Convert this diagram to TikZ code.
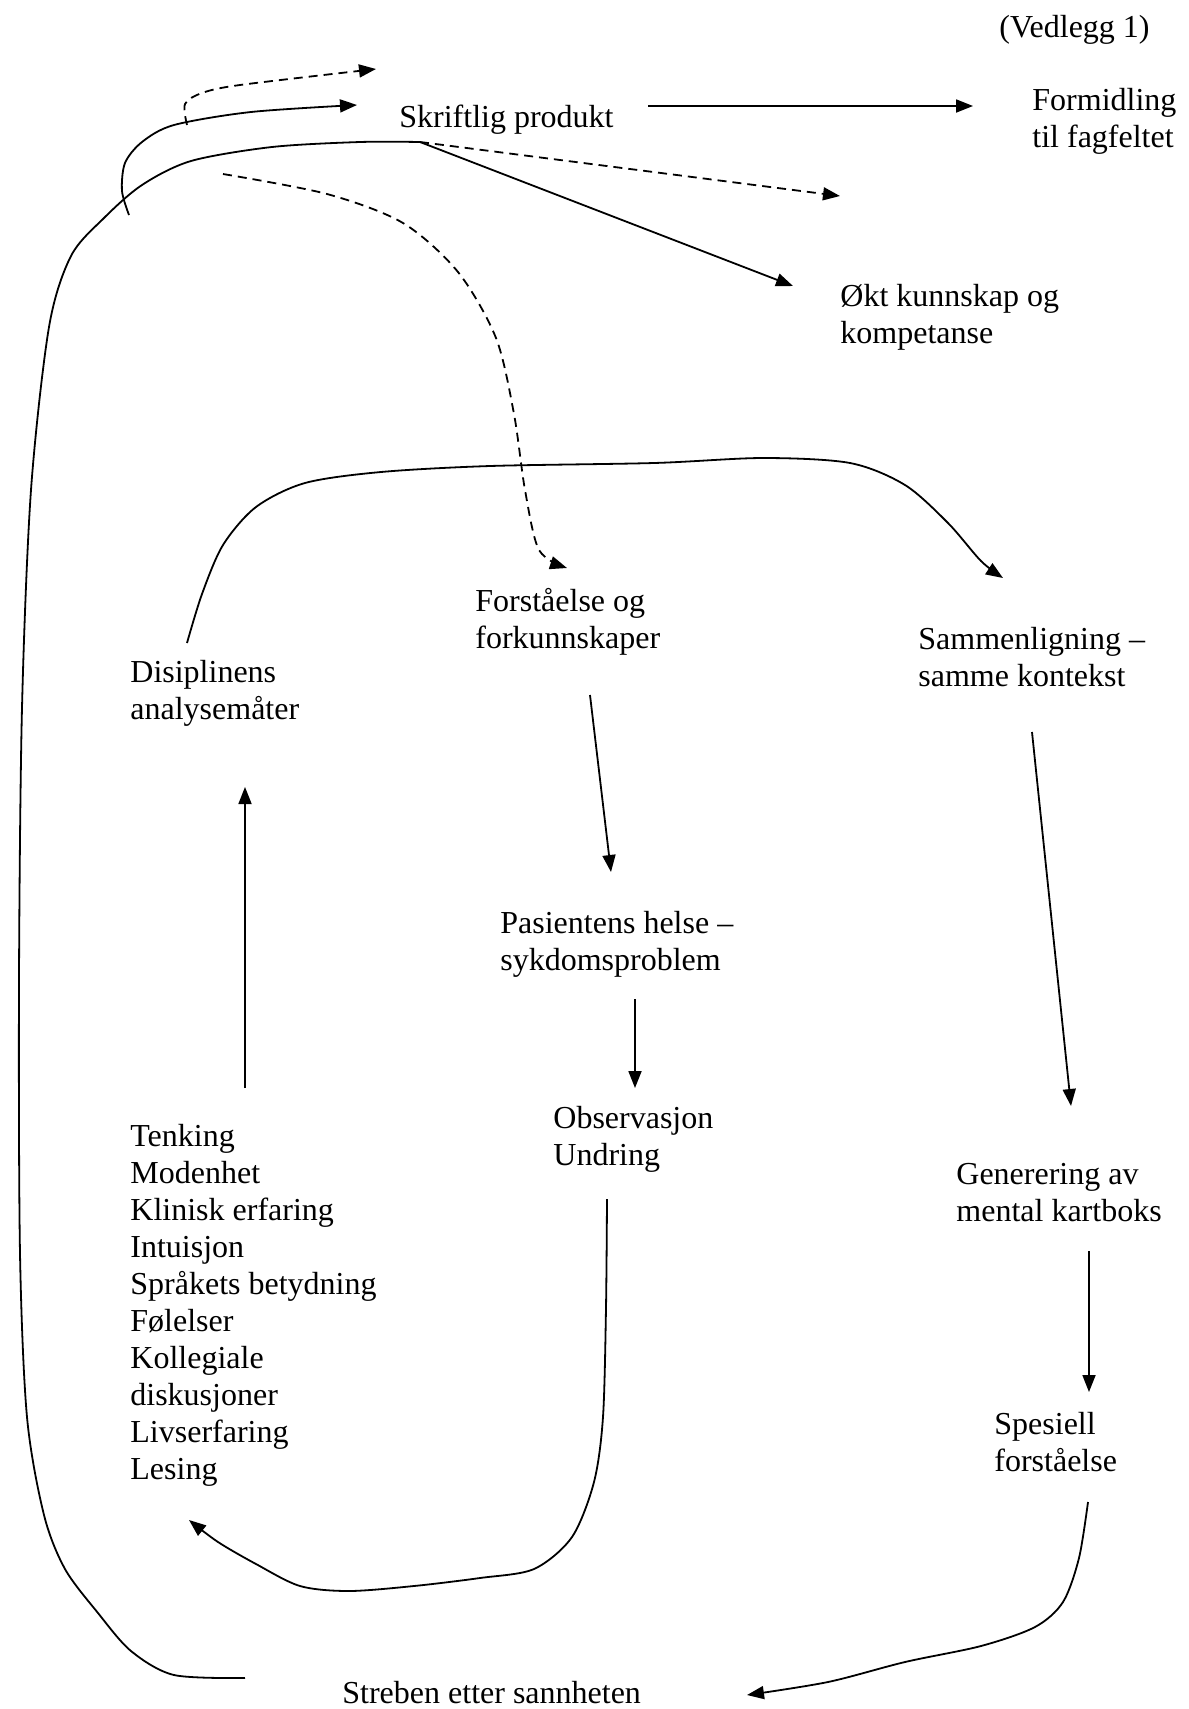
\documentclass[tikz,border=0pt]{standalone}
\usepackage{fontspec}
\setmainfont{Liberation Serif}
\usetikzlibrary{arrows.meta}
\tikzset{every picture/.style={>={Triangle[length=8.5pt,width=6.5pt]}},
  txt/.style={anchor=west,align=left,inner sep=0pt,font=\fontsize{16}{18.5}\selectfont},
  conn/.style={->,line width=0.9pt},
  dconn/.style={conn,dash pattern=on 4.5pt off 3pt}}

\begin{document}
\begin{tikzpicture}[x=0.5pt,y=-0.5pt]
  \useasboundingbox (0,0) rectangle (1189,1709);
  % texts
  \node[txt] (vedlegg) at (999,30) {(Vedlegg 1)};
  \node[txt] (skrift) at (399,120) {Skriftlig produkt};
  \node[txt] (formid) at (1032,121) {Formidling\\til fagfeltet};
  \node[txt] (okt) at (840,317) {Økt kunnskap og\\kompetanse};
  \node[txt] (forst) at (475,622) {Forståelse og\\forkunnskaper};
  \node[txt] (sammen) at (918,657) {Sammenligning –\\samme kontekst};
  \node[txt] (disip) at (130,693) {Disiplinens\\analysemåter};
  \node[txt] (pasient) at (500,944) {Pasientens helse –\\sykdomsproblem};
  \node[txt] (observ) at (553,1139) {Observasjon\\Undring};
  \node[txt] (gener) at (956,1193) {Generering av\\mental kartboks};
  \node[txt] (spes) at (994,1442) {Spesiell\\forståelse};
  \node[txt] (tenk) at (130,1305) {Tenking\\Modenhet\\Klinisk erfaring\\Intuisjon\\Språkets betydning\\Følelser\\Kollegiale\\diskusjoner\\Livserfaring\\Lesing};
  \node[txt] (streben) at (342,1693) {Streben etter sannheten};

  % free ends
  \coordinate (skr-r) at (648,106);
  \coordinate (form-l) at (973,106);
  \coordinate (skr-j) at (420,142);
  \coordinate (okt-l) at (793,286);
  \coordinate (dash-r) at (840,196);
  \coordinate (forst-b) at (590,695);
  \coordinate (pas-t) at (611,872);
  \coordinate (pas-b) at (635,999);
  \coordinate (obs-t) at (635,1088);
  \coordinate (obs-b) at (607,1199);
  \coordinate (tenk-t) at (245,1088);
  \coordinate (disip-b) at (245,787);
  \coordinate (disip-t) at (187,643);
  \coordinate (sam-t) at (1003,578);
  \coordinate (sam-b) at (1032,732);
  \coordinate (gen-t) at (1071,1106);
  \coordinate (gen-b) at (1089,1251);
  \coordinate (spes-t) at (1089,1392);
  \coordinate (spes-b) at (1088,1502);
  \coordinate (str-r) at (747,1695);
  \coordinate (str-l) at (245,1678);
  \coordinate (tenk-b) at (189,1520);
  \coordinate (forst-t) at (567,568);

  % straight arrows
  \draw[conn] (skr-r) -- (form-l);
  \draw[conn] (skr-j) -- (okt-l);
  \draw[dconn] (skr-j) -- (dash-r);
  \draw[conn] (forst-b) -- (pas-t);
  \draw[conn] (pas-b) -- (obs-t);
  \draw[conn] (tenk-t) -- (disip-b);
  \draw[conn] (sam-b) -- (gen-t);
  \draw[conn] (gen-b) -- (spes-t);

  % curved arrows
  \draw[line width=0.9pt] plot[smooth] coordinates {(str-l) (174,1675) (131,1651) (98,1613) (65,1569) (44,1515) (27,1417) (20,1253) (19,981) (22,708) (31,490) (49,327) (71,256) (104,218) (142,185) (191,161) (272,147) (360,142) (skr-j)};
  \draw[conn] plot[smooth] coordinates {(129,215) (122,191) (125,163) (142,142) (174,125) (251,112) (357,105)};
  \draw[dconn] plot[smooth] coordinates {(187,125) (185,104) (202,93) (240,85) (376,69)};
  \draw[dconn] plot[smooth] coordinates {(223,174) (327,194) (403,223) (458,272) (496,338) (514,414) (525,490) (539,550) (forst-t)};
  \draw[conn] plot[smooth] coordinates {(disip-t) (202,594) (223,545) (256,507) (305,483) (381,472) (490,466) (654,463) (763,458) (850,463) (905,485) (948,523) (981,561) (sam-t)};
  \draw[conn] plot[smooth] coordinates {(obs-b) (606,1308) (603,1417) (594,1482) (572,1537) (534,1569) (480,1578) (414,1586) (349,1591) (300,1586) (256,1564) (218,1542) (tenk-b)};
  \draw[conn] plot[smooth] coordinates {(spes-b) (1079,1558) (1063,1602) (1035,1627) (981,1646) (905,1662) (828,1682) (str-r)};
\end{tikzpicture}
\end{document}
